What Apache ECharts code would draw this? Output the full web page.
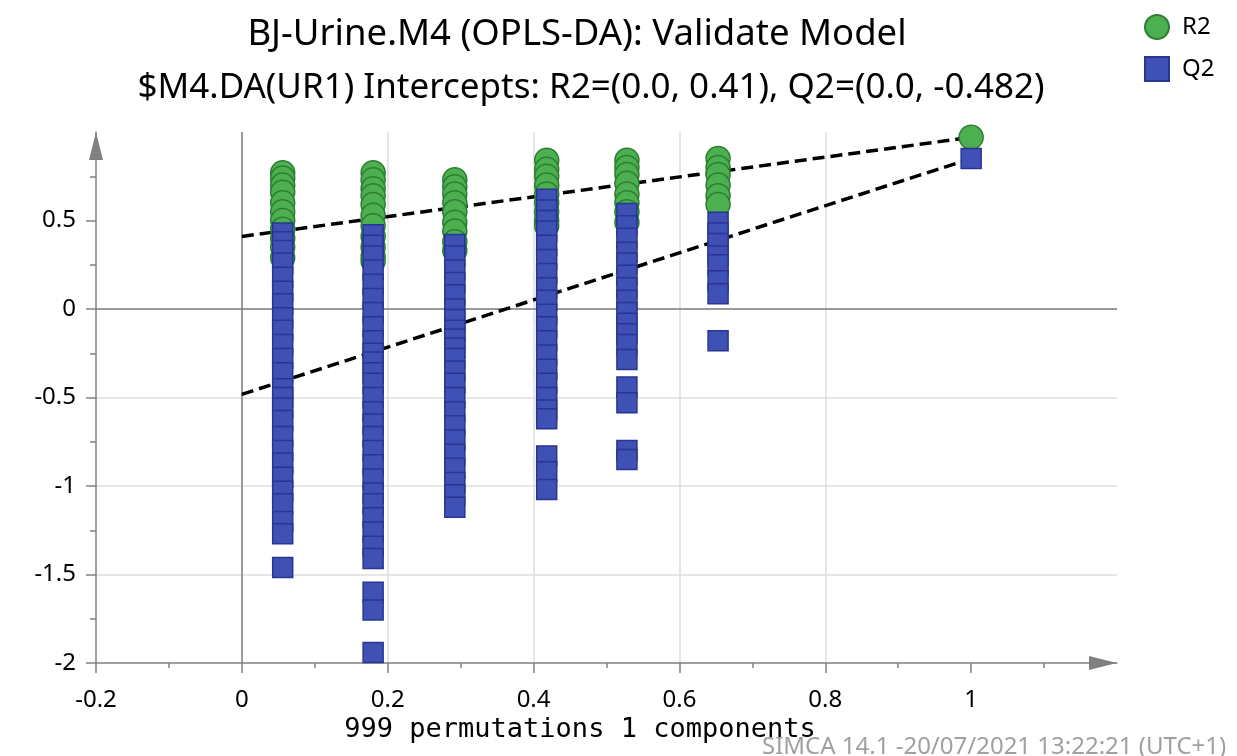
<!DOCTYPE html>
<html>
<head>
<meta charset="utf-8">
<title>Validate Model</title>
<script src="https://cdn.jsdelivr.net/npm/echarts@6/dist/echarts.min.js"></script>
<style>
  html, body { margin: 0; padding: 0; background: #fff; }
  #chart { width: 1237px; height: 756px; }
</style>
</head>
<body>
<div id="chart"></div>
<script>
// correlation of permuted y with original y (one column per value)
const permX = [0.056, 0.18, 0.292, 0.418, 0.528, 0.653];

// R2 of the permuted models, one list per column
const r2Perm = [
    [0.77, 0.74, 0.70, 0.66, 0.60, 0.55, 0.50, 0.45, 0.40, 0.35, 0.29],
    [0.77, 0.73, 0.68, 0.64, 0.59, 0.53, 0.47, 0.41, 0.35, 0.30, 0.27],
    [0.73, 0.69, 0.65, 0.60, 0.55, 0.49, 0.44, 0.38, 0.33],
    [0.84, 0.79, 0.75, 0.70, 0.65, 0.60, 0.55, 0.50, 0.47],
    [0.84, 0.80, 0.76, 0.71, 0.65, 0.60, 0.55, 0.49],
    [0.85, 0.80, 0.76, 0.70, 0.64, 0.59]
];

// Q2 of the permuted models, one list per column
const q2Perm = [
    [0.43, 0.38, 0.33, 0.26, 0.18, 0.10, 0.03, -0.05, -0.12, -0.20, -0.28, -0.36, -0.45, -0.50,
     -0.56, -0.63, -0.72, -0.80, -0.87, -0.95, -1.03, -1.10, -1.20, -1.27, -1.46],
    [0.42, 0.36, 0.30, 0.22, 0.14, 0.06, -0.02, -0.10, -0.18, -0.25, -0.30, -0.36, -0.42, -0.50,
     -0.58, -0.65, -0.72, -0.80, -0.88, -0.96, -1.04, -1.10, -1.18, -1.26, -1.34, -1.41,
     -1.60, -1.70, -1.94],
    [0.365, 0.30, 0.22, 0.15, 0.08, 0.00, -0.06, -0.12, -0.17, -0.22, -0.28, -0.35, -0.42, -0.50,
     -0.58, -0.66, -0.74, -0.82, -0.90, -0.98, -1.05, -1.12],
    [0.62, 0.56, 0.50, 0.44, 0.36, 0.28, 0.20, 0.12, 0.05, -0.03, -0.10, -0.18, -0.26, -0.34,
     -0.42, -0.50, -0.57, -0.62, -0.83, -0.92, -1.02],
    [0.54, 0.47, 0.40, 0.32, 0.26, 0.19, 0.12, 0.05, -0.02, -0.08, -0.14, -0.20, -0.285,
     -0.44, -0.53, -0.80, -0.85],
    [0.49, 0.43, 0.37, 0.30, 0.25, 0.16, 0.086, -0.18]
];

// original model
const origX = 1;
const r2Orig = 0.97;
const q2Orig = 0.85;

// regression intercepts
const r2Intercept = 0.41;
const q2Intercept = -0.482;

const xTickValues = [-0.2, 0, 0.2, 0.4, 0.6, 0.8, 1];
const yTickValues = [-2, -1.5, -1, -0.5, 0, 0.5];

const titleText = 'BJ-Urine.M4 (OPLS-DA): Validate Model';
const subtitleText = '$M4.DA(UR1) Intercepts: R2=(0.0, 0.41), Q2=(0.0, -0.482)';
const xAxisName = '999 permutations 1 components';
const footnote = 'SIMCA 14.1 -20/07/2021 13:22:21 (UTC+1)';

const FONT = '"Noto Sans", "Open Sans", sans-serif';
const AXIS_GRAY = '#808080';
const GRID_GRAY = '#dedede';

function columnPoints(xs, cols) {
    const pts = [];
    cols.forEach((vals, i) => vals.forEach(v => pts.push([xs[i], v])));
    return pts;
}

const r2Points = columnPoints(permX, r2Perm).concat([[origX, r2Orig]]);
const q2Points = columnPoints(permX, q2Perm).concat([[origX, q2Orig]]);

const chart = echarts.init(document.getElementById('chart'), null, { renderer: 'canvas' });

function axisCommon(ticks, minorLen) {
    return {
        axisLine: {
            show: true,
            onZero: false,
            symbol: ['none', 'triangle'],
            symbolSize: [14, 28],
            symbolOffset: [0, -14],
            lineStyle: { color: AXIS_GRAY, width: 1.5 }
        },
        axisTick: {
            show: true, inside: false, length: 10, customValues: ticks,
            lineStyle: { color: AXIS_GRAY, width: 1.5 }
        },
        minorTick: {
            show: true, splitNumber: 2, length: minorLen,
            lineStyle: { color: AXIS_GRAY, width: 1.5 }
        },
        splitLine: {
            show: true, showMinLine: false, showMaxLine: false,
            lineStyle: { color: GRID_GRAY, width: 1.5 }
        }
    };
}

const option = {
    animation: false,
    backgroundColor: '#fff',
    grid: { left: 96, right: 120, top: 132, bottom: 93, containLabel: false },
    legend: {
        data: [
            { name: 'R2', icon: 'circle' },
            { name: 'Q2', icon: 'rect' }
        ],
        orient: 'vertical',
        left: 1139,
        top: 9,
        itemWidth: 24,
        itemHeight: 24,
        itemGap: 16,
        textStyle: { fontSize: 24, color: '#000', fontFamily: FONT, padding: [0, 0, 0, 8] }
    },
    xAxis: Object.assign({
        type: 'value',
        min: -0.2,
        max: 1.2,
        interval: 0.2,
        axisLabel: {
            customValues: xTickValues,
            fontSize: 24, color: '#000', fontFamily: FONT, margin: 25,
            formatter: v => String(+v.toFixed(2))
        }
    }, axisCommon(xTickValues, 5)),
    yAxis: Object.assign({
        type: 'value',
        min: -2,
        max: 1,
        interval: 0.5,
        axisLabel: {
            customValues: yTickValues,
            fontSize: 24, color: '#000', fontFamily: FONT, margin: 20,
            formatter: v => String(+v.toFixed(2))
        }
    }, axisCommon(yTickValues, 6)),
    series: [
        {
            name: 'R2 line',
            type: 'line',
            data: [[0, r2Intercept], [origX, r2Orig]],
            symbol: 'none',
            silent: true,
            z: 2,
            lineStyle: { color: '#000', width: 3.5, type: [12, 6] },
            markLine: {
                silent: true,
                symbol: ['none', 'none'],
                z: 1,
                label: { show: false },
                emphasis: { disabled: true },
                lineStyle: { color: AXIS_GRAY, width: 1.5, type: 'solid' },
                data: [{ xAxis: 0 }, { yAxis: 0 }]
            }
        },
        {
            name: 'Q2 line',
            type: 'line',
            data: [[0, q2Intercept], [origX, q2Orig]],
            symbol: 'none',
            silent: true,
            z: 2,
            lineStyle: { color: '#000', width: 3.5, type: [12, 6] }
        },
        {
            name: 'R2',
            type: 'scatter',
            data: r2Points,
            symbol: 'circle',
            symbolSize: 24,
            z: 3,
            itemStyle: { color: '#4caf50', borderColor: '#2e7d32', borderWidth: 1.5, opacity: 1 }
        },
        {
            name: 'Q2',
            type: 'scatter',
            data: q2Points,
            symbol: 'rect',
            symbolSize: 20,
            z: 4,
            itemStyle: { color: '#3f51b5', borderColor: '#283593', borderWidth: 1.5, opacity: 1 }
        }
    ],
    graphic: [
        {
            type: 'text', x: 577, y: 35,
            style: { text: titleText, fontSize: 36.5, fill: '#000', fontFamily: FONT,
                     textAlign: 'center', textVerticalAlign: 'middle' }
        },
        {
            type: 'text', x: 591, y: 88,
            style: { text: subtitleText, fontSize: 35, fill: '#000', fontFamily: FONT,
                     textAlign: 'center', textVerticalAlign: 'middle' }
        },
        {
            type: 'text', x: 580, y: 730,
            style: { text: xAxisName, fontSize: 27, fill: '#000', fontFamily: '"DejaVu Sans Mono", monospace',
                     textAlign: 'center', textVerticalAlign: 'middle' }
        },
        {
            type: 'text', x: 762, y: 747,
            style: { text: footnote, fontSize: 24, fill: '#a0a0a0', fontFamily: FONT,
                     textAlign: 'left', textVerticalAlign: 'middle' }
        }
    ]
};

chart.setOption(option);
</script>
</body>
</html>
